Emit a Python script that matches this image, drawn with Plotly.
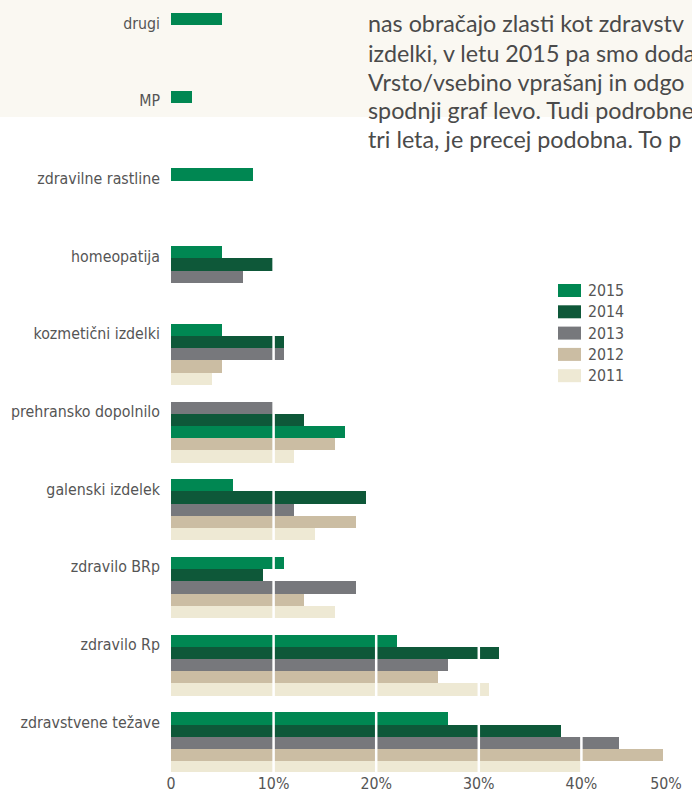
import plotly.graph_objects as go

# ---------------- data ----------------
categories = ["drugi", "MP", "zdravilne rastline", "homeopatija", "kozmetični izdelki",
              "prehransko dopolnilo", "galenski izdelek", "zdravilo BRp", "zdravilo Rp",
              "zdravstvene težave"]
years = ["2015", "2014", "2013", "2012", "2011"]
v2015 = [5, 2, 8, 5, 5, 17, 6, 11, 22, 27]
v2014 = [None, None, None, 10, 11, 13, 19, 9, 32, 38]
v2013 = [None, None, None, 7, 11, 10, 12, 18, 27, 43.7]
v2012 = [None, None, None, None, 5, 16, 18, 13, 26, 48]
v2011 = [None, None, None, None, 4, 12, 14, 16, 31, 40]
xtick_vals = [0, 10, 20, 30, 40, 50]
xtick_text = ["0", "10%", "20%", "30%", "40%", "50%"]
grid_vals = [10, 20, 30, 40]
text_lines = [
    "nas obračajo zlasti kot zdravstv",
    "izdelki, v letu 2015 pa smo doda",
    "Vrsto/vsebino vprašanj in odgo",
    "spodnji graf levo. Tudi podrobne",
    "tri leta, je precej podobna. To p",
]
# bar order inside one group differs for one category in the original
slot_order = {"prehransko dopolnilo": ["2013", "2014", "2015", "2012", "2011"]}

series = {"2015": v2015, "2014": v2014, "2013": v2013, "2012": v2012, "2011": v2011}
colors = {"2015": "#008752", "2014": "#0e5839", "2013": "#77787c",
          "2012": "#cbbda3", "2011": "#eee9d4"}

# ---------------- geometry ----------------
W, H = 692, 792
PL, PR, PT, PB = 171, 684, 0, 772
CAT_PX = 77.7
BAR_PX = 12.2
FIRST_TICK_PX = 23
y_top = -FIRST_TICK_PX / CAT_PX
y_bot = y_top + (PB - PT) / CAT_PX
bw = BAR_PX / CAT_PX
top_off = -10 / CAT_PX

def px_x(px):
    return (px - PL) / (PR - PL)

def px_y(py):
    return (PB - py) / (PB - PT)

LABEL_FONT = "DejaVu Sans Condensed, Liberation Sans Narrow, sans-serif"
FS = 15.8
GREY = "#555555"

fig = go.Figure()
for yr in years:
    offs = []
    for c in categories:
        order = slot_order.get(c, years)
        offs.append(top_off + order.index(yr) * bw)
    fig.add_trace(go.Bar(
        y=categories, x=series[yr], orientation="h", name=yr,
        width=bw, offset=offs, marker=dict(color=colors[yr], line=dict(width=0)),
        showlegend=False, hovertemplate="%{y}: %{x}%<extra>" + yr + "</extra>",
    ))

shapes = []
# faint cream page tint at the top
shapes.append(dict(type="rect", xref="paper", yref="paper", x0=px_x(0), x1=px_x(W),
                   y0=px_y(117), y1=px_y(0), fillcolor="#faf8f2", line=dict(width=0),
                   layer="below"))
# white grid lines drawn over the bars
for g in grid_vals:
    shapes.append(dict(type="line", xref="x", yref="paper", x0=g, x1=g,
                       y0=0, y1=px_y(190), line=dict(color="white", width=2.5),
                       layer="above"))

annotations = []
# custom legend
for i, yr in enumerate(years):
    top = 284 + 21.3 * i
    shapes.append(dict(type="rect", xref="paper", yref="paper",
                       x0=px_x(558), x1=px_x(581), y0=px_y(top + 13), y1=px_y(top),
                       fillcolor=colors[yr], line=dict(width=0)))
    annotations.append(dict(xref="paper", yref="paper", x=px_x(586), y=px_y(top + 6.5),
                            text=yr, showarrow=False, xanchor="left", yanchor="middle",
                            font=dict(family=LABEL_FONT, size=FS, color=GREY)))
# paragraph text fragment at top right
for i, line in enumerate(text_lines):
    base = 31.5 + 29 * i
    annotations.append(dict(xref="paper", yref="paper", x=px_x(366), y=px_y(base - 8),
                            text=line, showarrow=False, xanchor="left", yanchor="middle",
                            font=dict(family="Lato, Open Sans, sans-serif", size=23.3,
                                      color="#4a4a4a")))

ticktext = xtick_text[:-1] + [xtick_text[-1] + "\u00a0" * 8]

fig.update_layout(
    width=W, height=H,
    margin=dict(l=PL, r=W - PR, t=PT, b=H - PB, pad=0),
    paper_bgcolor="white", plot_bgcolor="rgba(0,0,0,0)",
    barmode="overlay", bargap=0,
    showlegend=False,
    shapes=shapes, annotations=annotations,
    xaxis=dict(range=[0, 50], tickvals=xtick_vals, ticktext=ticktext,
               showgrid=False, zeroline=False, showline=False, ticks="",
               ticklabelstandoff=0, ticklabeloverflow="allow", automargin=False,
               tickfont=dict(family=LABEL_FONT, size=FS, color=GREY), fixedrange=True),
    yaxis=dict(type="category", categoryorder="array", categoryarray=categories,
               range=[y_bot, y_top], showgrid=False, zeroline=False, showline=False,
               ticks="", ticklabelstandoff=10, automargin=False,
               tickfont=dict(family=LABEL_FONT, size=FS, color=GREY), fixedrange=True),
)

fig.write_html("out.html", config={"displayModeBar": False},
               post_script="document.body.style.margin='0';document.body.style.overflow='hidden';")
